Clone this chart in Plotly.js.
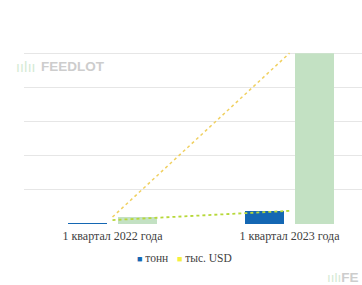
<!DOCTYPE html>
<html>
<head>
<meta charset="utf-8">
<script src="https://cdn.plot.ly/plotly-3.0.1.min.js"></script>
<style>
html,body{margin:0;padding:0;background:#fff;overflow:hidden;width:362px;height:285px;}
#chart{width:390px;height:285px;}
</style>
</head>
<body>
<div id="chart"></div>
<script>
const categories = ['1 квартал 2022 года', '1 квартал 2023 года'];
const tonnes = [60, 760];
const usdThousands = [410, 10000];
const trendTonnes = [230, 770];
const trendUsd = [410, 10000];
const seriesNames = ['тонн', 'тыс. USD'];

const traces = [
  {type:'bar', x:categories, y:tonnes, name:seriesNames[0], marker:{color:'#1467b3'}, showlegend:false, hoverinfo:'skip'},
  {type:'bar', x:categories, y:usdThousands, name:seriesNames[1], marker:{color:'#c3e1c3'}, showlegend:false, hoverinfo:'skip'},
  {type:'scatter', mode:'lines', x:categories, y:trendUsd, line:{color:'#f0d060', width:1.5, dash:'dot'}, showlegend:false, hoverinfo:'skip'},
  {type:'scatter', mode:'lines', x:categories, y:trendTonnes, line:{color:'#b7d83a', width:1.8, dash:'dot'}, showlegend:false, hoverinfo:'skip'}
];

const layout = {
  width:390, height:285,
  margin:{l:24, r:12, t:19, b:61},
  paper_bgcolor:'#ffffff', plot_bgcolor:'#ffffff',
  barmode:'group', bargap:0.435, bargroupgap:0.22,
  showlegend:false,
  xaxis:{type:'category', showgrid:false, zeroline:false, showline:false, ticks:'', ticklabelstandoff:3,
    tickfont:{family:'Liberation Serif, serif', size:12, color:'#404040'}},
  yaxis:{range:[0,12000], dtick:2000, showticklabels:false, showgrid:true, gridcolor:'#e6e6e6', gridwidth:1, zeroline:false, showline:false, ticks:''},
  annotations:[
    {xref:'paper', yref:'paper', x:0.452, y:-0.166, xanchor:'center', yanchor:'middle', showarrow:false,
      text:'<span style="color:#1467b3;font-size:9px">■</span> '+seriesNames[0]+'   <span style="color:#f5f03c;font-size:9px">■</span> '+seriesNames[1],
      font:{family:'Liberation Serif, serif', size:11.5, color:'#404040'}},
    {xref:'paper', yref:'paper', x:0.037, y:0.766, xanchor:'right', yanchor:'middle', showarrow:false,
      text:'ıılıı', font:{family:'DejaVu Sans, sans-serif', size:14, color:'#d4ead4'}},
    {xref:'paper', yref:'paper', x:0.042, y:0.766, xanchor:'left', yanchor:'middle', showarrow:false,
      text:'<b>FEEDLOT</b>', font:{family:'Liberation Sans, Arial, sans-serif', size:13.5, color:'#cdcdcd'}},
    {xref:'paper', yref:'paper', x:0.952, y:-0.259, xanchor:'right', yanchor:'middle', showarrow:false,
      text:'<span style="color:#d4ead4">ıılı</span><b>FE</b>', font:{family:'Liberation Sans, Arial, sans-serif', size:13.5, color:'#cdcdcd'}}
  ]
};

Plotly.newPlot('chart', traces, layout, {displayModeBar:false, staticPlot:true});
</script>
</body>
</html>
